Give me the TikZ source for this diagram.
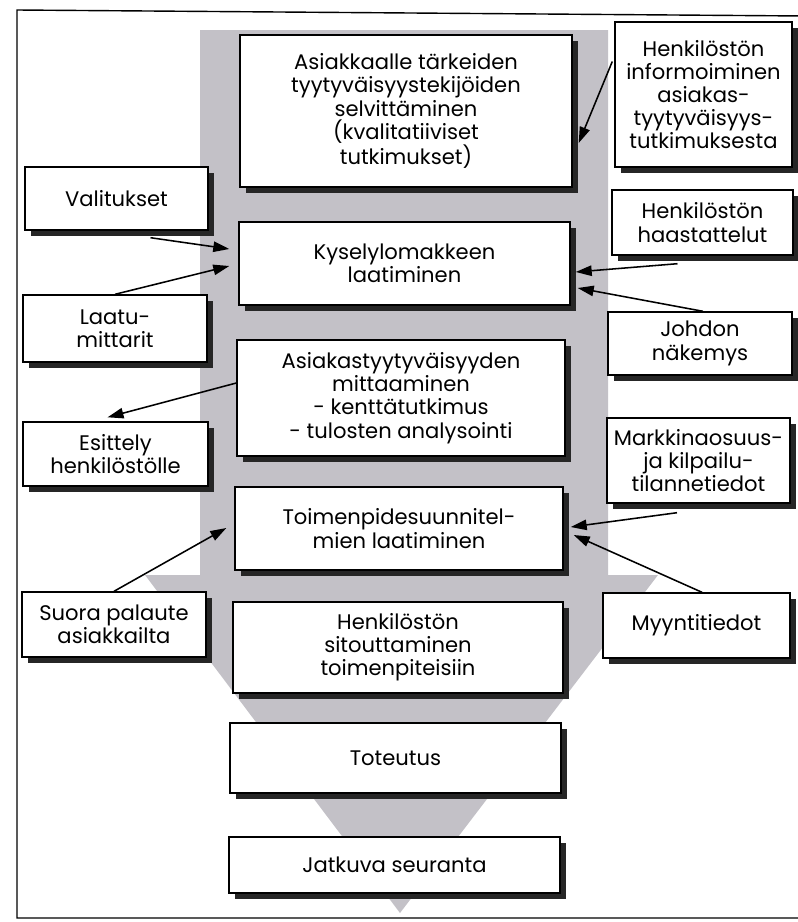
\documentclass[tikz,border=0pt]{standalone}
\usepackage{fontspec}
\setmainfont{Poppins}
\usepackage{xcolor}
\usetikzlibrary{arrows.meta,calc,shadows}
\definecolor{fgrey}{HTML}{C3C1C7}

\begin{document}
\begin{tikzpicture}[x=0.025cm,y=-0.025cm,
  font=\fontsize{15}{16.5}\selectfont,
  box/.style={draw=black,fill=white,line width=1pt,align=center,inner sep=2pt,
              drop shadow={shadow xshift=0.16cm,shadow yshift=-0.16cm,fill=black!85,opacity=1}},
  sz/.style 2 args={minimum width=#1*0.025cm,minimum height=#2*0.025cm},
  ar/.style={-{Triangle[length=4mm,width=2.6mm]},line width=1.1pt}]
\useasboundingbox (0,0) rectangle (797,922);

% ---- frame and grey funnel ----
\draw[line width=1pt] (805,16) -- (17,10) -- (17,918) -- (805,918);
\fill[fgrey] (200,30) -- (608,30) -- (608,575) -- (658,575) -- (400,913)
  -- (145,575) -- (200,575) -- cycle;

% ---- main steps (in the funnel) ----
\node[box,sz={332}{152}] (b1) at (406,111)
  {Asiakkaalle tärkeiden\\tyytyväisyystekijöiden\\selvittäminen\\(kvalitatiiviset\\tutkimukset)};
\node[box,sz={331}{83}] (b2) at (404.5,263.5) {Kyselylomakkeen\\laatiminen};
\node[box,sz={328}{116}] (b3) at (401,398)
  {Asiakastyytyväisyyden\\mittaaminen\\- kenttätutkimus\\- tulosten analysointi};
\node[box,sz={328}{83}] (b4) at (399,528.5) {Toimenpidesuunnitel-\\mien laatiminen};
\node[box,sz={330}{91}] (b5) at (398,647.5) {Henkilöstön\\sitouttaminen\\toimenpiteisiin};
\node[box,sz={331}{70}] (b6) at (395.5,758) {Toteutus};
\node[box,sz={331}{56}] (b7) at (394.5,865) {Jatkuva seuranta};

% ---- inputs on the left ----
\node[box,sz={183}{63}] (valit) at (116.5,198.5) {Valitukset};
\node[box,sz={184}{67}] (laatu) at (115,328.5) {Laatu-\\mittarit};
\node[box,sz={185}{64}] (esit) at (115.5,454) {Esittely\\henkilöstölle};
\node[box,sz={184}{65}] (suora) at (114,624.5) {Suora palaute\\asiakkailta};

% ---- inputs on the right ----
\node[box,sz={177}{145}] (info) at (703.5,94.5)
  {Henkilöstön\\informoiminen\\asiakas-\\tyytyväisyys-\\tutkimuksesta};
\node[box,sz={181}{65}] (haast) at (702.5,222.5) {Henkilöstön\\haastattelut};
\node[box,sz={184}{63}] (johdon) at (700,343.5) {Johdon\\näkemys};
\node[box,sz={183}{85}] (markk) at (698.5,460.5) {Markkinaosuus-\\ja kilpailu-\\tilannetiedot};
\node[box,sz={187}{65}] (myynti) at (696.5,625.5) {Myyntitiedot};

% ---- arrows ----
\draw[ar] ($(info.west)+(-2,-33)$) -- ($(b1.east)+(6,32)$);
\draw[ar] ($(valit.south)+(34,7)$) -- ($(b2.west)+(-9,-14.5)$);
\draw[ar] (laatu.north) -- ($(b2.west)+(-9,2.5)$);
\draw[ar] ($(haast.south)+(-25,8)$) -- ($(b2.east)+(5,8.5)$);
\draw[ar] ($(johdon.north)+(3,0)$) -- ($(b2.east)+(7,24.5)$);
\draw[ar] ($(b3.west)+(0,-15)$) -- ($(esit.north)+(-8,-4)$);
\draw[ar] ($(markk.south)+(-21.5,9)$) -- ($(b4.east)+(7,-1.5)$);
\draw[ar] ($(myynti.north)+(5.5,0)$) -- ($(b4.east)+(10,6.5)$);
\draw[ar] (suora.north) -- ($(b4.west)+(-8,-0.5)$);
\end{tikzpicture}
\end{document}
